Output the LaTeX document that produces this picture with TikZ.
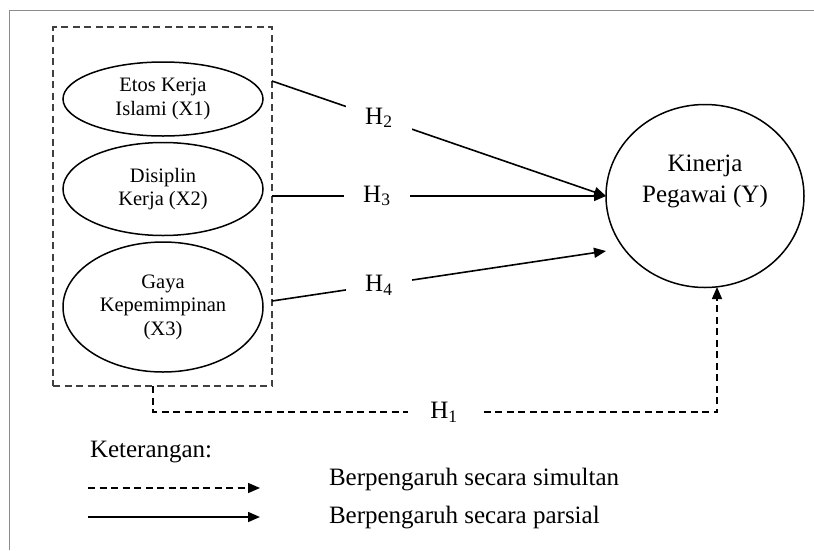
\documentclass[tikz,border=0pt]{standalone}
\usepackage{fontspec}
\setmainfont{Liberation Serif}
\usetikzlibrary{arrows.meta,shapes.geometric}
\begin{document}
\begin{tikzpicture}[x=1pt,y=-1pt,
  every node/.style={inner sep=0pt, outer sep=0pt},
  var/.style={ellipse, draw, line width=1.5pt, minimum width=200pt, align=center, font=\fontsize{20.5}{23.5}\selectfont},
  hyp/.style={fill=white, minimum width=66pt, minimum height=40pt, font=\fontsize{25}{28}\selectfont},
  part/.style={line width=1.6pt, -{Triangle[length=12pt,width=10pt]}},
  simul/.style={line width=1.5pt, dash pattern=on 7pt off 4.5pt, -{Triangle[length=12pt,width=10pt]}},
  legtext/.style={anchor=west, font=\fontsize{25}{30}\selectfont}]

\useasboundingbox (0,0) rectangle (814,550);
\draw[black!45, line width=1pt] (9.5,550) -- (9.5,10.5) -- (814,10.5);

\node[draw=black!75, line width=1.3pt, dash pattern=on 7pt off 4.5pt, minimum width=219pt, minimum height=359pt] (grp) at (162.5,206.5) {};

\node[var, minimum height=74pt] (e1) at (163,99) {Etos Kerja\\Islami (X1)};
\node[var, minimum height=93pt] (e2) at (163,189) {Disiplin\\Kerja (X2)};
\node[var, minimum height=130pt] (e3) at (163,307) {Gaya\\Kepemimpinan\\(X3)};

\node[ellipse, draw, line width=1.5pt, minimum width=198pt, minimum height=183pt] (Y) at (705,196) {};
\node[align=center, font=\fontsize{25}{31}\selectfont] (ylab) at (705,181) {Kinerja\\Pegawai (Y)};

\coordinate (s2) at (272,81);
\coordinate (s3) at (272,196);
\coordinate (s4) at (272,301);
\coordinate (t4) at (606,251);

\draw[part] (s2) -- node[hyp, pos=0.32] (h2) {H\textsubscript{2}} (Y.west);
\draw[part] (s3) -- node[hyp, pos=0.314] (h3) {H\textsubscript{3}} (Y.west);
\draw[part] (s4) -- node[hyp, pos=0.32] (h4) {H\textsubscript{4}} (t4);

\coordinate (h1a) at (153,386);
\coordinate (h1b) at (153,412);
\coordinate (h1c) at (717,412);
\coordinate (h1d) at (717,287);
\draw[simul] (h1a) -- (h1b) -- node[hyp, pos=0.516, minimum width=72pt] (h1) {H\textsubscript{1}} (h1c) -- (h1d);

\node[anchor=west, font=\fontsize{25}{30}\selectfont] (ket) at (90,452) {Keterangan:};
\coordinate (l1a) at (88,488);
\coordinate (l1b) at (260,488);
\coordinate (l2a) at (88,517);
\coordinate (l2b) at (260,517);
\draw[simul] (l1a) -- (l1b);
\draw[part] (l2a) -- (l2b);
\node[legtext] (t1) at (329,480) {Berpengaruh secara simultan};
\node[legtext] (t2) at (329,518) {Berpengaruh secara parsial};
\end{tikzpicture}
\end{document}
